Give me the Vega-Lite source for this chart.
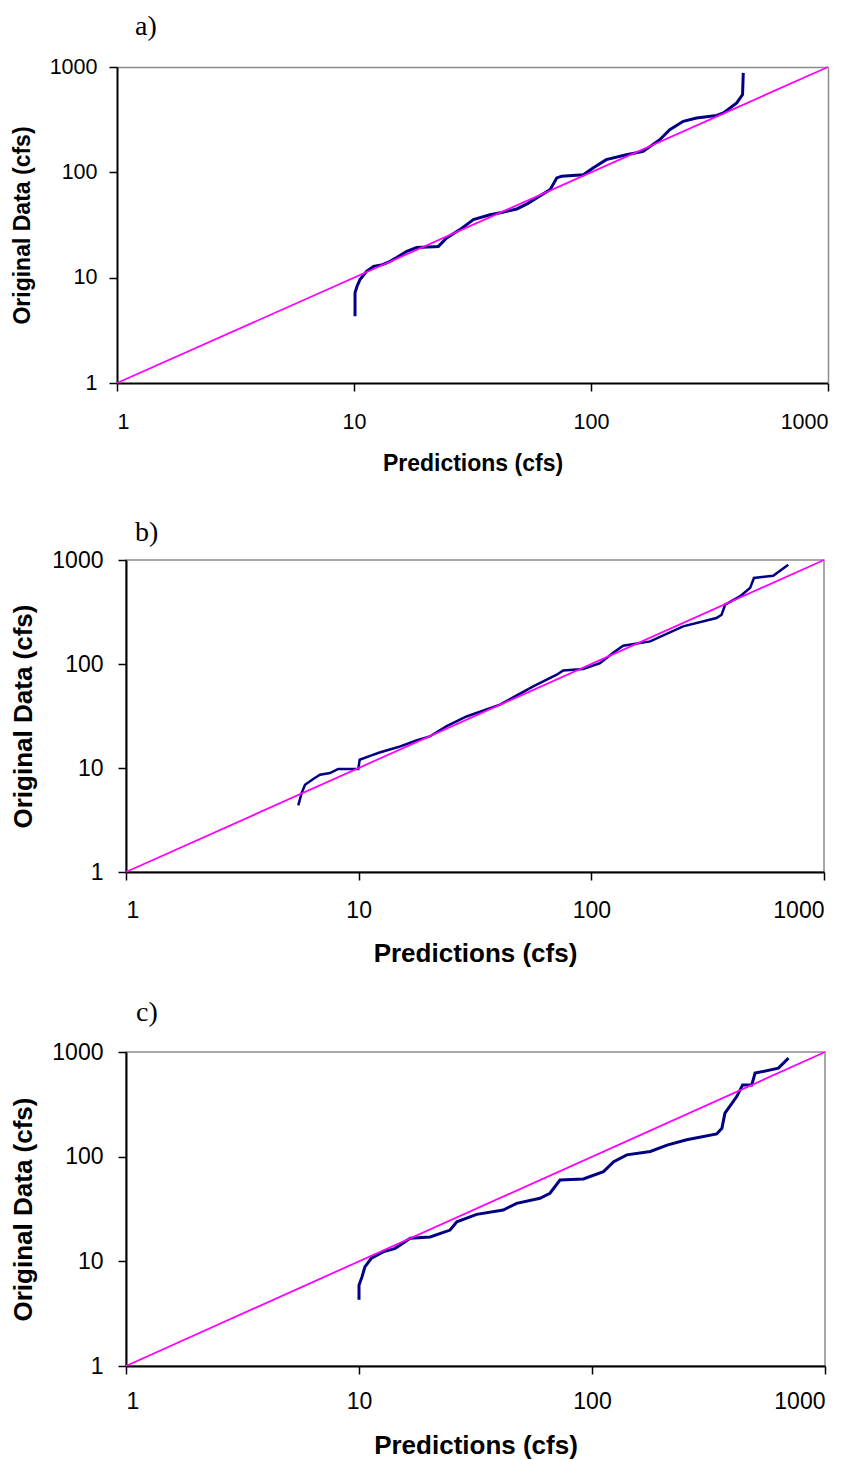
{
  "$schema": "https://vega.github.io/schema/vega-lite/v6.json",
  "background": "white",
  "padding": {"left": 10, "top": 13, "right": 5, "bottom": 5},
  "spacing": 31,
  "config": {
    "view": {"stroke": "#8c8c8c", "strokeWidth": 1.5},
    "axis": {"domainColor": "black", "domainWidth": 2, "tickColor": "black", "tickWidth": 1.5, "tickSize": 8, "grid": false, "labelFont": "Liberation Sans", "titleFont": "Liberation Sans", "titleFontWeight": "bold", "labelColor": "black", "titleColor": "black"},
    "title": {"font": "Liberation Serif", "fontWeight": "normal", "color": "black", "anchor": "start", "frame": "group", "baseline": "alphabetic"}
  },
  "datasets": {
    "diag": [{"pred": 1, "obs": 1}, {"pred": 1000, "obs": 1000}],
    "qq_a": [{"pred":10.1,"obs":4.3},{"pred":10.1,"obs":7.2},{"pred":10.3,"obs":8.3},{"pred":10.6,"obs":9.6},{"pred":11.3,"obs":11.5},{"pred":12.1,"obs":12.8},{"pred":13.2,"obs":13.3},{"pred":14.2,"obs":14.3},{"pred":15.2,"obs":15.6},{"pred":16.7,"obs":17.8},{"pred":18.4,"obs":19.3},{"pred":20.5,"obs":19.6},{"pred":22.7,"obs":19.8},{"pred":24.6,"obs":23.8},{"pred":28,"obs":28.6},{"pred":31.9,"obs":35.6},{"pred":37.5,"obs":39.6},{"pred":42,"obs":41.5},{"pred":48.6,"obs":44.9},{"pred":54,"obs":50.5},{"pred":59,"obs":57},{"pred":67.2,"obs":68.5},{"pred":71.7,"obs":88.5},{"pred":75.2,"obs":91.6},{"pred":92.9,"obs":95},{"pred":102,"obs":110},{"pred":116,"obs":132},{"pred":141,"obs":147},{"pred":166,"obs":158},{"pred":195,"obs":204},{"pred":215,"obs":254},{"pred":245,"obs":305},{"pred":279,"obs":328},{"pred":339,"obs":347},{"pred":362,"obs":366},{"pred":412,"obs":456},{"pred":436,"obs":547},{"pred":439,"obs":879}],
    "qq_b": [{"pred":5.5,"obs":4.37},{"pred":5.69,"obs":5.75},{"pred":5.88,"obs":6.9},{"pred":6.38,"obs":7.84},{"pred":6.82,"obs":8.6},{"pred":7.53,"obs":8.95},{"pred":8.17,"obs":9.8},{"pred":9.96,"obs":9.8},{"pred":10.1,"obs":12},{"pred":11.2,"obs":13.1},{"pred":12.3,"obs":14.1},{"pred":14.8,"obs":15.9},{"pred":17.7,"obs":18.4},{"pred":20.2,"obs":20.1},{"pred":23.9,"obs":25.3},{"pred":29.1,"obs":31.3},{"pred":40.5,"obs":40.6},{"pred":56.3,"obs":61},{"pred":71,"obs":78.9},{"pred":75.7,"obs":86.7},{"pred":92.3,"obs":89.5},{"pred":109,"obs":102},{"pred":125,"obs":130},{"pred":137,"obs":150},{"pred":179,"obs":165},{"pred":248,"obs":230},{"pred":345,"obs":277},{"pred":363,"obs":298},{"pred":376,"obs":372},{"pred":435,"obs":447},{"pred":481,"obs":537},{"pred":500,"obs":671},{"pred":605,"obs":706},{"pred":702,"obs":901}],
    "qq_c": [{"pred":10,"obs":4.3},{"pred":10,"obs":5.9},{"pred":10.3,"obs":7.1},{"pred":10.6,"obs":8.85},{"pred":11.3,"obs":10.7},{"pred":12.7,"obs":12.3},{"pred":14.3,"obs":13.3},{"pred":16.6,"obs":16.6},{"pred":20.2,"obs":17.1},{"pred":24.6,"obs":19.9},{"pred":26.3,"obs":23.9},{"pred":32,"obs":28.1},{"pred":41.6,"obs":30.9},{"pred":47.5,"obs":35.8},{"pred":59.8,"obs":40},{"pred":66,"obs":44.7},{"pred":72.9,"obs":59.8},{"pred":91.8,"obs":61.2},{"pred":112,"obs":71.9},{"pred":124,"obs":89.6},{"pred":141,"obs":104},{"pred":178,"obs":112},{"pred":210,"obs":129},{"pred":255,"obs":145},{"pred":343,"obs":165},{"pred":361,"obs":187},{"pred":372,"obs":260},{"pred":418,"obs":375},{"pred":443,"obs":485},{"pred":485,"obs":485},{"pred":501,"obs":628},{"pred":631,"obs":701},{"pred":697,"obs":875}]
  },
  "vconcat": [
    {
      "width": 702, "height": 316,
      "view": {"stroke": null},
      "title": {"text": "a)", "fontSize": 28, "dx": 9, "offset": 15},
      "resolve": {"axis": {"x": "independent", "y": "independent"}},
      "layer": [
        {
          "data": {"name": "qq_a"},
          "mark": {"type": "line", "color": "#000080", "strokeWidth": 3},
          "encoding": {
            "x": {"field": "pred", "type": "quantitative", "scale": {"type": "log", "domain": [1, 1000], "nice": false, "range": [-9, 702]}, "axis": {"orient": "bottom", "values": [1, 10, 100, 1000], "format": "d", "title": "Predictions (cfs)", "labelFontSize": 21.5, "titleFontSize": 23, "labelPadding": 20, "titlePadding": 20}},
            "y": {"field": "obs", "type": "quantitative", "scale": {"type": "log", "domain": [1, 1000], "nice": false}, "axis": {"orient": "left", "offset": 9, "values": [1, 10, 100, 1000], "format": "d", "title": "Original Data (cfs)", "labelFontSize": 21.5, "titleFontSize": 23, "labelPadding": 12, "titlePadding": 15}},
            "order": {"value": null}
          }
        },
        {
          "data": {"name": "diag"},
          "mark": {"type": "line", "color": "#FF00FF", "strokeWidth": 1.8},
          "encoding": {
            "x": {"field": "pred", "type": "quantitative", "scale": {"type": "log", "domain": [1, 1000], "nice": false, "range": [-9, 702]}, "axis": {"orient": "top", "domainColor": "#8c8c8c", "domainWidth": 1.5, "ticks": false, "labels": false, "title": null}},
            "y": {"field": "obs", "type": "quantitative", "scale": {"type": "log", "domain": [1, 1000], "nice": false}, "axis": {"orient": "right", "domainColor": "#8c8c8c", "domainWidth": 1.5, "ticks": false, "labels": false, "title": null}},
            "order": {"value": null}
          }
        }
      ]
    },
    {
      "width": 698, "height": 312,
      "title": {"text": ["", "b)"], "lineHeight": 11, "fontSize": 28, "dx": 9, "offset": 2},
      "encoding": {
        "x": {"field": "pred", "type": "quantitative", "scale": {"type": "log", "domain": [1, 1000], "nice": false}, "axis": {"values": [1, 10, 100, 1000], "format": "d", "title": "Predictions (cfs)", "labelFontSize": 23, "titleFontSize": 26, "labelPadding": 19, "titlePadding": 18}},
        "y": {"field": "obs", "type": "quantitative", "scale": {"type": "log", "domain": [1, 1000], "nice": false}, "axis": {"values": [1, 10, 100, 1000], "format": "d", "title": "Original Data (cfs)", "labelFontSize": 23, "titleFontSize": 26, "labelPadding": 15, "titlePadding": 15}},
        "order": {"value": null}
      },
      "layer": [
        {"data": {"name": "qq_b"}, "mark": {"type": "line", "color": "#000080", "strokeWidth": 2.5}},
        {"data": {"name": "diag"}, "mark": {"type": "line", "color": "#FF00FF", "strokeWidth": 1.8}}
      ]
    },
    {
      "width": 699, "height": 314,
      "title": {"text": "c)", "fontSize": 28, "dx": 10, "offset": 14},
      "encoding": {
        "x": {"field": "pred", "type": "quantitative", "scale": {"type": "log", "domain": [1, 1000], "nice": false}, "axis": {"values": [1, 10, 100, 1000], "format": "d", "title": "Predictions (cfs)", "labelFontSize": 23, "titleFontSize": 26, "labelPadding": 16, "titlePadding": 19}},
        "y": {"field": "obs", "type": "quantitative", "scale": {"type": "log", "domain": [1, 1000], "nice": false}, "axis": {"values": [1, 10, 100, 1000], "format": "d", "title": "Original Data (cfs)", "labelFontSize": 23, "titleFontSize": 26, "labelPadding": 15, "titlePadding": 15}},
        "order": {"value": null}
      },
      "layer": [
        {"data": {"name": "qq_c"}, "mark": {"type": "line", "color": "#000080", "strokeWidth": 3}},
        {"data": {"name": "diag"}, "mark": {"type": "line", "color": "#FF00FF", "strokeWidth": 1.8}}
      ]
    }
  ]
}
